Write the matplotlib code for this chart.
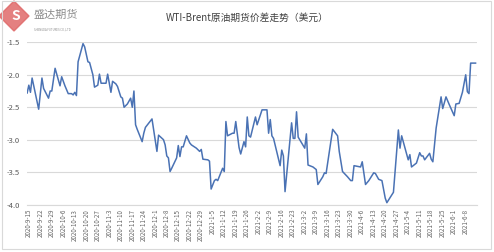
import numpy as np
import matplotlib.pyplot as plt
import matplotlib.dates as mdates
import matplotlib.patches as mpatches
import pandas as pd

plt.rcParams['font.family'] = ['Noto Sans CJK SC', 'DejaVu Sans']

# spread series
dates = ["2020-09-14", "2020-09-15", "2020-09-16", "2020-09-17", "2020-09-21", "2020-09-23", "2020-09-24",
         "2020-09-27", "2020-09-28", "2020-09-29", "2020-10-01", "2020-10-04", "2020-10-05", "2020-10-07",
         "2020-10-09", "2020-10-11", "2020-10-12", "2020-10-13", "2020-10-14", "2020-10-15", "2020-10-18",
         "2020-10-19", "2020-10-21", "2020-10-22", "2020-10-24", "2020-10-25", "2020-10-27", "2020-10-28",
         "2020-10-29", "2020-11-01", "2020-11-02", "2020-11-03", "2020-11-04", "2020-11-05", "2020-11-07",
         "2020-11-08", "2020-11-10", "2020-11-11", "2020-11-12", "2020-11-14", "2020-11-16", "2020-11-17",
         "2020-11-18", "2020-11-19", "2020-11-20", "2020-11-23", "2020-11-24", "2020-11-25", "2020-11-29",
         "2020-12-02", "2020-12-03", "2020-12-06", "2020-12-07", "2020-12-08", "2020-12-09", "2020-12-10",
         "2020-12-11", "2020-12-14", "2020-12-15", "2020-12-16", "2020-12-17", "2020-12-18", "2020-12-20",
         "2020-12-22", "2020-12-23", "2020-12-26", "2020-12-28", "2020-12-29", "2020-12-30", "2021-01-02",
         "2021-01-03", "2021-01-04", "2021-01-06", "2021-01-07", "2021-01-08", "2021-01-11", "2021-01-12",
         "2021-01-13", "2021-01-14", "2021-01-17", "2021-01-18", "2021-01-19", "2021-01-21", "2021-01-22",
         "2021-01-24", "2021-01-25", "2021-01-26", "2021-01-27", "2021-01-28", "2021-01-31", "2021-02-01",
         "2021-02-04", "2021-02-07", "2021-02-08", "2021-02-09", "2021-02-10", "2021-02-11", "2021-02-15",
         "2021-02-16", "2021-02-17", "2021-02-18", "2021-02-22", "2021-02-23", "2021-02-24", "2021-02-25",
         "2021-02-26", "2021-03-02", "2021-03-03", "2021-03-04", "2021-03-07", "2021-03-09", "2021-03-10",
         "2021-03-13", "2021-03-14", "2021-03-15", "2021-03-19", "2021-03-22", "2021-03-23", "2021-03-25",
         "2021-03-28", "2021-03-30", "2021-03-31", "2021-04-01", "2021-04-03", "2021-04-05", "2021-04-06",
         "2021-04-08", "2021-04-10", "2021-04-13", "2021-04-14", "2021-04-16", "2021-04-18", "2021-04-20",
         "2021-04-21", "2021-04-25", "2021-04-28", "2021-04-29", "2021-04-30", "2021-05-04", "2021-05-05",
         "2021-05-06", "2021-05-09", "2021-05-11", "2021-05-12", "2021-05-13", "2021-05-14", "2021-05-17",
         "2021-05-18", "2021-05-19", "2021-05-21", "2021-05-24", "2021-05-25", "2021-05-27", "2021-05-29",
         "2021-06-01", "2021-06-02", "2021-06-04", "2021-06-06", "2021-06-08", "2021-06-09", "2021-06-10",
         "2021-06-11", "2021-06-14"]
spread = [-2.28, -2.16, -2.27, -2.05, -2.53, -2.05, -2.21,
          -2.36, -2.25, -2.25, -1.90, -2.17, -2.03, -2.17,
          -2.29, -2.29, -2.31, -2.27, -2.32, -1.80, -1.52,
          -1.57, -1.80, -1.81, -2.00, -2.19, -2.16, -1.99,
          -2.13, -2.13, -1.99, -2.13, -2.27, -2.10, -2.14,
          -2.18, -2.34, -2.36, -2.50, -2.45, -2.36, -2.50,
          -2.25, -2.77, -2.84, -3.03, -2.90, -2.81, -2.68,
          -3.18, -2.93, -3.00, -3.08, -3.25, -3.28, -3.49,
          -3.44, -3.28, -3.09, -3.26, -3.11, -3.11, -2.94,
          -3.05, -3.08, -3.13, -3.18, -3.15, -3.30, -3.31,
          -3.33, -3.76, -3.63, -3.61, -3.63, -3.44, -3.49,
          -2.72, -2.94, -2.90, -2.90, -2.72, -3.12, -3.22,
          -3.03, -3.11, -2.65, -2.94, -2.96, -2.65, -2.77,
          -2.54, -2.54, -2.90, -2.69, -2.94, -2.98, -3.40,
          -3.16, -3.25, -3.80, -2.74, -2.98, -2.98, -2.57,
          -2.96, -3.13, -2.91, -3.39, -3.42, -3.46, -3.69,
          -3.57, -3.51, -3.52, -2.84, -2.94, -3.18, -3.49,
          -3.57, -3.63, -3.63, -3.40, -3.41, -3.42, -3.34,
          -3.69, -3.63, -3.51, -3.52, -3.61, -3.63, -3.90,
          -3.97, -3.81, -2.85, -3.13, -2.94, -3.31, -3.23,
          -3.42, -3.36, -3.20, -3.25, -3.25, -3.31, -3.21,
          -3.30, -3.34, -2.82, -2.34, -2.52, -2.34, -2.46,
          -2.63, -2.45, -2.44, -2.27, -2.00, -2.26, -2.29,
          -1.82, -1.82]
tick_dates = pd.date_range("2020-09-15", "2021-06-08", freq="7D")
yticks = [-4.0, -3.5, -3.0, -2.5, -2.0, -1.5]

x = pd.to_datetime(dates)

fig = plt.figure(figsize=(4.94, 2.52), dpi=100)
ax = fig.add_axes([0.055, 0.188, 0.911, 0.644])
ax.plot(x, spread, color="#4a72b4", linewidth=1.1)

ax.set_ylim(-4.0, -1.5)
ax.set_yticks(yticks)
ax.set_yticklabels(["%.1f" % t for t in yticks])
ax.set_xlim(pd.Timestamp("2020-09-14"), pd.Timestamp("2021-06-15"))
ax.set_xticks(tick_dates)
ax.set_xticklabels(["%d-%d-%d" % (d.year, d.month, d.day) for d in tick_dates],
                   rotation=90, fontsize=4.5, color="#666666")
ax.tick_params(axis="y", labelsize=5.5, labelcolor="#595959", length=0, pad=5)
ax.tick_params(axis="x", length=0, pad=3)
ax.grid(axis="y", color="#d9d9d9", linewidth=0.8)
ax.set_axisbelow(True)
for s in ["top", "right", "left"]:
    ax.spines[s].set_visible(False)
ax.spines["bottom"].set_color("#d9d9d9")

fig.text(0.5, 0.93, "WTI-Brent原油期货价差走势（美元）", ha="center", va="center",
         fontsize=7, color="#404040")

# logo
fig.patches.append(mpatches.RegularPolygon((14, 236), 4, radius=15, orientation=0,
                                           color="#e06a6a", alpha=0.85,
                                           transform=None, figure=fig))
fig.text(0.031, 0.935, "S", ha="center", va="center", fontsize=10, color="white",
         fontweight="bold")
fig.text(0.068, 0.94, "盛达期货", ha="left", va="center", fontsize=8, color="#8c8c8c")
fig.text(0.068, 0.885, "SHENGDA FUTURES CO.,LTD", ha="left", va="center", fontsize=2,
         color="#8c8c8c")

# frame around the chart
fig.patches.append(mpatches.Rectangle((0.004, 0.012), 0.99, 0.985, fill=False,
                                      edgecolor="#d9d9d9", linewidth=0.8,
                                      transform=fig.transFigure, figure=fig))

fig.savefig("out.png", dpi=100)
